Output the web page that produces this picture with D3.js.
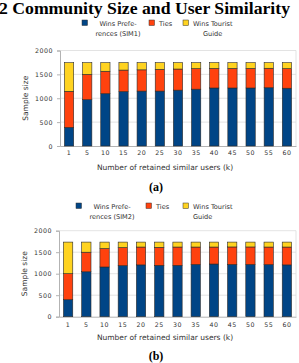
<!DOCTYPE html>
<html>
<head>
<meta charset="utf-8">
<script src="https://cdn.jsdelivr.net/npm/d3@7"></script>
<style>
  body { margin: 0; background: #fff; }
  svg { display: block; }
</style>
</head>
<body>
<svg id="fig" width="299" height="363"></svg>
<script>
const categories = ['1', '5', '10', '15', '20', '25', '30', '35', '40', '45', '50', '55', '60'];
const yTicks = [0, 500, 1000, 1500, 2000];

// chart (a) - SIM1
const winsPrefA = [390, 970, 1095, 1140, 1150, 1150, 1170, 1190, 1215, 1215, 1215, 1220, 1210];
const tiesA = [755, 530, 470, 450, 445, 455, 442, 430, 410, 410, 410, 408, 410];
const touristA = [600, 245, 180, 155, 150, 140, 133, 125, 120, 120, 120, 117, 125];

// chart (b) - SIM2
const winsPrefB = [395, 1045, 1156, 1186, 1205, 1195, 1195, 1215, 1225, 1215, 1215, 1210, 1205];
const tiesB = [605, 455, 429, 421, 415, 419, 425, 405, 395, 407, 407, 410, 415];
const touristB = [735, 235, 150, 128, 115, 121, 115, 115, 115, 113, 113, 115, 115];

const seriesNames = ['Wins Preferences', 'Ties', 'Wins Tourist Guide'];
const colors = ['#004586', '#ff420e', '#ffd320'];

const svg = d3.select('#fig');
const font = 'DejaVu Sans, sans-serif';

svg.append('text')
  .attr('x', -1).attr('y', 14)
  .attr('font-family', 'Liberation Serif, serif')
  .attr('font-weight', 'bold')
  .attr('font-size', 16)
  .attr('textLength', 291)
  .attr('lengthAdjust', 'spacingAndGlyphs')
  .text('2  Community Size and User Similarity');

function drawChart(o) {
  const g = svg.append('g');
  const rows = categories.map((c, i) => ({ k: c, a: o.pref[i], b: o.ties[i], c: o.tour[i] }));
  const stack = d3.stack().keys(['a', 'b', 'c'])(rows);

  const x = d3.scaleBand().domain(categories).range([o.left, o.right]).paddingInner(0.49).paddingOuter(0.245);
  const y = d3.scaleLinear().domain([0, 2000]).range([o.bottom, o.top]);

  // grid + frame
  g.selectAll('line.grid').data(yTicks.slice(1)).enter().append('line')
    .attr('x1', o.left).attr('x2', o.right)
    .attr('y1', d => y(d)).attr('y2', d => y(d))
    .attr('stroke', '#dcdcdc').attr('stroke-width', 0.8);
  g.append('line').attr('x1', o.right).attr('x2', o.right).attr('y1', o.top).attr('y2', o.bottom)
    .attr('stroke', '#dcdcdc').attr('stroke-width', 0.8);

  // y axis
  const ya = g.append('g').attr('transform', `translate(${o.left},0)`)
    .call(d3.axisLeft(y).tickValues(yTicks).tickSize(3).tickPadding(4).tickFormat(d3.format('d')));
  ya.select('.domain').attr('stroke', '#b3b3b3');
  ya.selectAll('.tick line').attr('stroke', '#b3b3b3');
  ya.selectAll('text').attr('font-family', font).attr('font-size', 6.3).attr('fill', '#333').attr('letter-spacing', 0.5);

  // x axis
  const xa = g.append('g').attr('transform', `translate(0,${o.bottom})`)
    .call(d3.axisBottom(x).tickSize(0).tickPadding(o.xPad));
  xa.select('.domain').attr('stroke', '#b3b3b3');
  xa.selectAll('text').attr('font-family', font).attr('font-size', 6.3).attr('fill', '#333').attr('letter-spacing', 0.5);

  // bars
  g.selectAll('g.layer').data(stack).enter().append('g')
    .attr('fill', (d, i) => colors[i])
    .selectAll('rect').data(d => d).enter().append('rect')
    .attr('x', d => x(d.data.k))
    .attr('width', x.bandwidth())
    .attr('y', d => y(d[1]))
    .attr('height', d => y(d[0]) - y(d[1]))
    .attr('stroke', '#2a2a2a').attr('stroke-width', 0.6);

  // axis titles
  g.append('text')
    .attr('transform', `translate(${o.yTitleX},${(o.top + o.bottom) / 2}) rotate(-90)`)
    .attr('text-anchor', 'middle').attr('font-family', font).attr('font-size', 7.5).attr('fill', '#333')
    .text('Sample size');
  g.append('text')
    .attr('x', 165).attr('y', o.xTitleY)
    .attr('text-anchor', 'middle').attr('font-family', font).attr('font-size', 7.5).attr('fill', '#333')
    .text('Number of retained similar users (k)');

  // legend
  const lg = g.append('g').attr('font-family', font).attr('font-size', 6.6).attr('fill', '#333');
  const items = [
    { x: o.leg[0], lines: ['Wins Prefe-', 'rences (' + o.sim + ')'] },
    { x: o.leg[1], lines: ['Ties'] },
    { x: o.leg[2], lines: ['Wins Tourist', 'Guide'] }
  ];
  items.forEach((it, i) => {
    lg.append('rect').attr('x', it.x).attr('y', o.legY - 3).attr('width', 5.5).attr('height', 5.5)
      .attr('fill', colors[i]).attr('stroke', '#333').attr('stroke-width', 0.5);
    const t = lg.append('text').attr('x', it.x + 10 + (i === 0 ? 26 : 0)).attr('y', o.legY + 2.5)
      .attr('text-anchor', i === 0 ? 'middle' : 'start');
    it.lines.forEach((l, j) => {
      t.append('tspan').attr('x', i === 2 && j === 1 ? it.x + 10 + o.guideDx : it.x + 10 + (i === 0 ? 26 : 0))
        .attr('dy', j === 0 ? 0 : 10).text(l);
    });
  });

  // caption
  svg.append('text').attr('x', 156).attr('y', o.capY).attr('text-anchor', 'middle')
    .attr('font-family', 'Liberation Serif, serif').attr('font-weight', 'bold').attr('font-size', 12)
    .text(o.cap);
}

drawChart({
  pref: winsPrefA, ties: tiesA, tour: touristA, sim: 'SIM1', cap: '(a)',
  left: 60, right: 296, top: 50.5, bottom: 146,
  xPad: 5, yTitleX: 28, xTitleY: 170, legY: 23, leg: [82, 149, 183], guideDx: 10, capY: 191
});
drawChart({
  pref: winsPrefB, ties: tiesB, tour: touristB, sim: 'SIM2', cap: '(b)',
  left: 59, right: 296, top: 230.7, bottom: 316.7,
  xPad: 6, yTitleX: 27, xTitleY: 340, legY: 206, leg: [76, 146, 183], guideDx: 0, capY: 360
});
</script>
</body>
</html>
